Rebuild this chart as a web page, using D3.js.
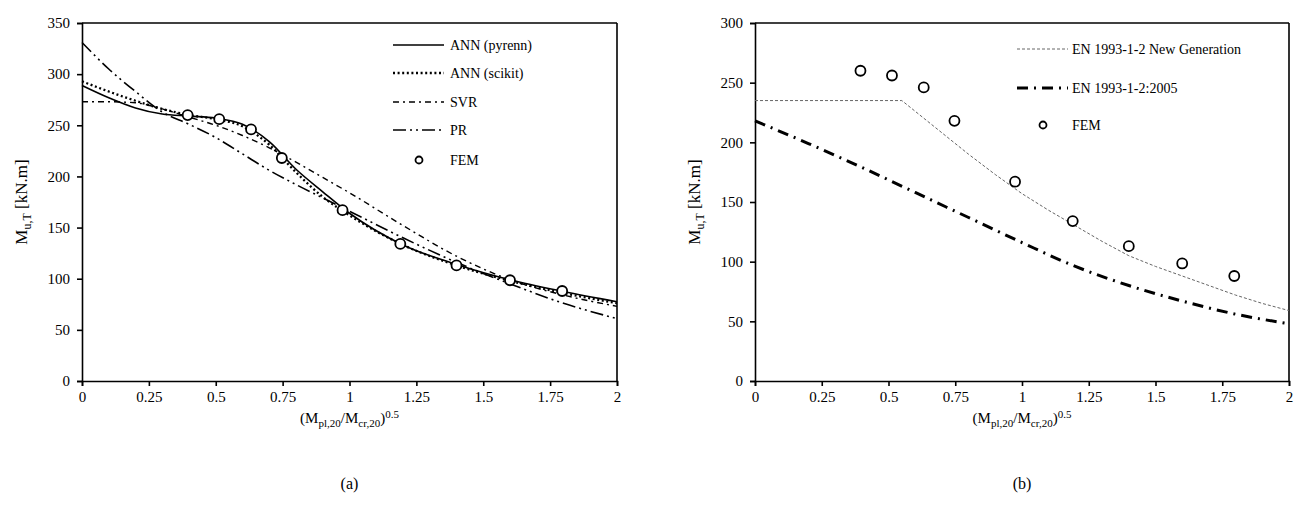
<!DOCTYPE html>
<meta charset="utf-8">
<script src="https://d3js.org/d3.v7.min.js"></script>
<style>
  body { margin: 0; background: #fff; }
  text { font-family: "Liberation Serif", "DejaVu Serif", serif; fill: #000; }
</style>
<body>
<div id="chart"></div>
<script>
// ---- data ----
var xTicks = [0, 0.25, 0.5, 0.75, 1, 1.25, 1.5, 1.75, 2];
var xTickLabels = ["0", "0.25", "0.5", "0.75", "1", "1.25", "1.5", "1.75", "2"];
var yTicksA = [0, 50, 100, 150, 200, 250, 300, 350];
var yTicksB = [0, 50, 100, 150, 200, 250, 300];

// FEM results (same in both panels)
var femX = [0.395, 0.513, 0.632, 0.747, 0.974, 1.19, 1.40, 1.60, 1.795];
var femY = [260, 256, 246, 218, 167, 134, 113, 98.5, 88];

// panel (a) fitted models
var modelX  = [0, 0.1, 0.2, 0.3, 0.4, 0.5, 0.6, 0.7, 0.8, 0.9, 1.0, 1.2, 1.4, 1.6, 1.8, 2.0];
var pyrennY = [289, 277, 267, 261, 259, 257, 251, 234, 207, 185, 164, 133, 114, 99, 87.5, 77.5];
var scikitY = [293, 283, 274, 266, 260, 256, 249, 231, 204, 180, 162, 133, 113, 98, 86, 76];
var svrY    = [273, 273, 272, 266, 258, 250, 240, 228, 214, 199, 184, 152, 122, 99, 84, 73];
var prY     = [331, 305, 283, 263, 251, 238, 222, 206, 192, 179, 166, 140, 116, 95, 76, 61];

// panel (b) design curves
var newGenX = [0, 0.55, 0.6, 0.7, 0.8, 0.9, 1.0, 1.1, 1.2, 1.3, 1.4, 1.5, 1.6, 1.7, 1.8, 1.9, 2.0];
var newGenY = [235, 235, 226, 208, 190, 173, 157, 143, 130, 117, 105, 96, 88, 80, 72, 65, 59];
var en2005X = [0, 0.2, 0.4, 0.6, 0.8, 1.0, 1.2, 1.4, 1.6, 1.8, 2.0];
var en2005Y = [218, 199, 179, 158, 137, 116, 96, 80, 67, 56, 48];

var serif = "Liberation Serif, DejaVu Serif, serif";

var svg = d3.select("#chart")
  .append("svg")
    .attr("width", 1294)
    .attr("height", 506)
    .attr("font-family", serif);

function zip(xs, ys) {
  return xs.map(function(x, i) { return {x: x, y: ys[i]}; });
}

function panel(left, right, yMax, yTicks, letter) {
  var top = 23, bottom = 381;
  var x = d3.scaleLinear().domain([0, 2]).range([left, right]);
  var y = d3.scaleLinear().domain([0, yMax]).range([bottom, top]);
  var g = svg.append("g");

  // box (top + right)
  g.append("line").attr("x1", left).attr("x2", right).attr("y1", top).attr("y2", top)
    .attr("stroke", "#000").attr("stroke-width", 1.6);
  g.append("line").attr("x1", right).attr("x2", right).attr("y1", top).attr("y2", bottom)
    .attr("stroke", "#000").attr("stroke-width", 1.6);

  var xa = g.append("g")
    .attr("transform", "translate(0," + bottom + ")")
    .call(d3.axisBottom(x).tickValues(xTicks).tickSize(5).tickPadding(5)
      .tickFormat(function(d, i) { return xTickLabels[i]; }));
  var ya = g.append("g")
    .attr("transform", "translate(" + left + ",0)")
    .call(d3.axisLeft(y).tickValues(yTicks).tickSize(5).tickPadding(7));
  [xa, ya].forEach(function(a) {
    a.attr("font-family", serif).attr("font-size", 15);
    a.selectAll("path").attr("stroke", "#000").attr("stroke-width", 1.6);
    a.selectAll("line").attr("stroke", "#000").attr("stroke-width", 1.6);
    a.selectAll("text").attr("fill", "#000");
  });

  // y title
  var yt = g.append("text")
    .attr("transform", "translate(" + (left - 55) + "," + ((top + bottom) / 2) + ") rotate(-90)")
    .attr("text-anchor", "middle")
    .style("font-size", "17px");
  yt.append("tspan").text("M");
  yt.append("tspan").attr("dy", 4).style("font-size", "12px").text("u,T");
  yt.append("tspan").attr("dy", -4).text(" [kN.m]");

  // x title
  var xt = g.append("text")
    .attr("x", (left + right) / 2)
    .attr("y", 423)
    .attr("text-anchor", "middle")
    .style("font-size", "15px");
  xt.append("tspan").text("(M");
  xt.append("tspan").attr("dy", 4).style("font-size", "11px").text("pl,20");
  xt.append("tspan").attr("dy", -4).text("/M");
  xt.append("tspan").attr("dy", 4).style("font-size", "11px").text("cr,20");
  xt.append("tspan").attr("dy", -4).text(")");
  xt.append("tspan").attr("dy", -5).style("font-size", "11px").text("0.5");

  g.append("text")
    .attr("x", (left + right) / 2)
    .attr("y", 489)
    .attr("text-anchor", "middle")
    .style("font-size", "16px")
    .text("(" + letter + ")");

  return {g: g, x: x, y: y};
}

function series(p, pts, curve, stroke, width, dash) {
  p.g.append("path")
    .datum(pts)
    .attr("fill", "none")
    .attr("stroke", stroke)
    .attr("stroke-width", width)
    .attr("stroke-dasharray", dash)
    .attr("d", d3.line()
      .curve(curve)
      .x(function(d) { return p.x(d.x); })
      .y(function(d) { return p.y(d.y); }));
}

function fem(p) {
  p.g.selectAll(".fem")
    .data(zip(femX, femY))
    .enter().append("circle")
      .attr("cx", function(d) { return p.x(d.x); })
      .attr("cy", function(d) { return p.y(d.y); })
      .attr("r", 5)
      .attr("fill", "#fff")
      .attr("stroke", "#000")
      .attr("stroke-width", 1.8);
}

function legend(p, lx, rows) {
  rows.forEach(function(r) {
    if (r.marker) {
      p.g.append("circle").attr("cx", lx + 26).attr("cy", r.y).attr("r", 3.5)
        .attr("fill", "#fff").attr("stroke", "#000").attr("stroke-width", 1.8);
    } else {
      p.g.append("line").attr("x1", lx).attr("x2", lx + 51).attr("y1", r.y).attr("y2", r.y)
        .attr("stroke", r.stroke).attr("stroke-width", r.width).attr("stroke-dasharray", r.dash);
    }
    p.g.append("text").attr("x", lx + r.tx).attr("y", r.y + 5)
      .style("font-size", "14px").text(r.label);
  });
}

// ---- panel (a) ----
var a = panel(82, 617, 350, yTicksA, "a");
series(a, zip(modelX, svrY), d3.curveMonotoneX, "#000", 1.4, "6,4,2,4");
series(a, zip(modelX, prY), d3.curveMonotoneX, "#000", 1.6, "13,4,2,4,2,4");
series(a, zip(modelX, scikitY), d3.curveMonotoneX, "#000", 2.3, "2,2.6");
series(a, zip(modelX, pyrennY), d3.curveMonotoneX, "#000", 1.6, null);
fem(a);
legend(a, 393, [
  {y: 45, label: "ANN (pyrenn)", stroke: "#000", width: 1.6, dash: null, tx: 57},
  {y: 73, label: "ANN (scikit)", stroke: "#000", width: 2.3, dash: "2,2.6", tx: 57},
  {y: 102, label: "SVR", stroke: "#000", width: 1.4, dash: "6,4,2,4", tx: 57},
  {y: 130, label: "PR", stroke: "#000", width: 1.6, dash: "13,4,2,4,2,4", tx: 57},
  {y: 160, label: "FEM", marker: true, tx: 57}
]);

// ---- panel (b) ----
var b = panel(755, 1289, 300, yTicksB, "b");
series(b, zip(newGenX, newGenY), d3.curveLinear, "#666", 1, "3,2");
series(b, zip(en2005X, en2005Y), d3.curveMonotoneX, "#000", 3, "11,6,2,6");
fem(b);
legend(b, 1017, [
  {y: 49, label: "EN 1993-1-2 New Generation", stroke: "#666", width: 1, dash: "3,2", tx: 55},
  {y: 88, label: "EN 1993-1-2:2005", stroke: "#000", width: 3, dash: "11,6,2,6", tx: 55},
  {y: 125, label: "FEM", marker: true, tx: 55}
]);
</script>
</body>
